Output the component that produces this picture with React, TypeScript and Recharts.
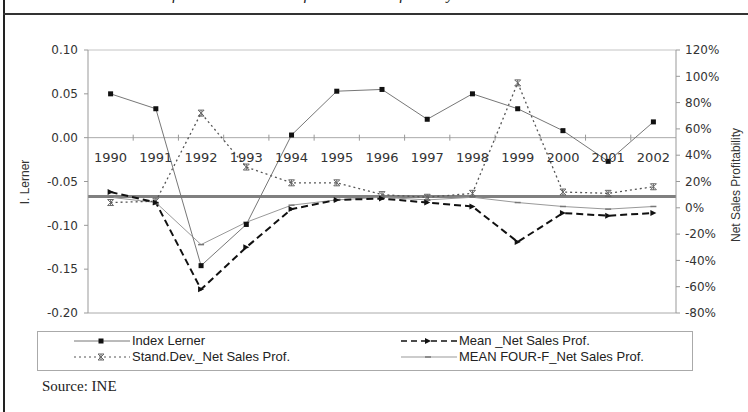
import React from 'react';
import { LineChart, Line, XAxis, YAxis, ReferenceLine } from 'recharts';

const years = ['1990', '1991', '1992', '1993', '1994', '1995', '1996', '1997', '1998', '1999', '2000', '2001', '2002'];
const indexLerner = [0.05, 0.033, -0.146, -0.099, 0.003, 0.053, 0.055, 0.021, 0.05, 0.033, 0.008, -0.027, 0.018];
const meanNetSales = [12, 4, -62, -30, -1, 6, 7, 4, 1, -26, -4, -6, -4];
const stdDevNetSales = [4, 5, 72, 31, 19, 19, 10, 8, 11, 95, 12, 11, 16];
const meanFourF = [8, 4, -28, -11, 2, 6, 8, 6, 8, 4, 1, -1, 1];
const lernerTicks = [-0.2, -0.15, -0.1, -0.05, 0, 0.05, 0.1];
const pctTicks = [-80, -60, -40, -20, 0, 20, 40, 60, 80, 100, 120];
const levelLine = 8.5;

const rows = years.map((year, i) => ({
  year,
  lerner: indexLerner[i],
  mean: meanNetSales[i],
  std: stdDevNetSales[i],
  fourF: meanFourF[i],
}));

const PLOT_TOP = 50;
const PLOT_H = 263;
const ZERO_Y = PLOT_TOP + PLOT_H / 3;
const HALF_BAND = 22.6;

const tickFont = { fontFamily: 'DejaVu Sans', fontSize: 12, fill: '#333' };

function YearTick(props: any) {
  const { x, payload, index } = props;
  return (
    <g>
      <text x={x} y={ZERO_Y + 21} textAnchor="middle" dominantBaseline="middle" fontFamily="DejaVu Sans" fontSize={13} fill="#333">
        {payload.value}
      </text>
      {index < years.length - 1 && (
        <line x1={x + HALF_BAND} x2={x + HALF_BAND} y1={ZERO_Y - 3} y2={ZERO_Y + 3} stroke="#999" />
      )}
    </g>
  );
}

const squareDot = (p: any) => (
  <rect key={p.index} x={p.cx - 2.5} y={p.cy - 2.5} width={5} height={5} fill="#111" />
);
const triDot = (p: any) => (
  <path key={p.index} d={`M${p.cx - 3},${p.cy - 3} L${p.cx + 3},${p.cy} L${p.cx - 3},${p.cy + 3} Z`} fill="#111" />
);
const starDot = (p: any) => (
  <path
    key={p.index}
    d={`M${p.cx - 3},${p.cy - 3} L${p.cx + 3},${p.cy + 3} M${p.cx + 3},${p.cy - 3} L${p.cx - 3},${p.cy + 3} M${p.cx},${p.cy - 3} L${p.cx},${p.cy + 3} M${p.cx - 3},${p.cy - 3} L${p.cx + 3},${p.cy - 3} M${p.cx - 3},${p.cy + 3} L${p.cx + 3},${p.cy + 3}`}
    stroke="#666"
    strokeWidth={1}
    fill="none"
  />
);
const dashDot = (p: any) => (
  <line key={p.index} x1={p.cx - 3} x2={p.cx + 3} y1={p.cy} y2={p.cy} stroke="#777" strokeWidth={1.5} />
);

function LegendSample({ kind }: { kind: string }) {
  const m = { cx: 27, cy: 6, index: 0 };
  return (
    <svg width={56} height={12} style={{ position: 'absolute', left: 0, top: 1 }}>
      {kind === 'lerner' && (<><line x1={0} x2={56} y1={6} y2={6} stroke="#777" />{squareDot(m)}</>)}
      {kind === 'mean' && (<><line x1={0} x2={56} y1={6} y2={6} stroke="#111" strokeWidth={1.5} strokeDasharray="6 4" />{triDot(m)}</>)}
      {kind === 'std' && (<><line x1={0} x2={56} y1={6} y2={6} stroke="#555" strokeDasharray="2 3" />{starDot(m)}</>)}
      {kind === 'fourF' && (<><line x1={0} x2={56} y1={6} y2={6} stroke="#999" />{dashDot(m)}</>)}
    </svg>
  );
}

function LegendItem({ kind, label, left, top }: { kind: string; label: string; left: number; top: number }) {
  return (
    <div style={{ position: 'absolute', left, top, height: 14, paddingLeft: 58, fontFamily: 'Liberation Sans', fontSize: 13, color: '#222', whiteSpace: 'nowrap', lineHeight: '14px' }}>
      <LegendSample kind={kind} />
      {label}
    </div>
  );
}

export default function App() {
  return (
    <div style={{ position: 'absolute', left: 0, top: 0, width: 748, height: 412, background: '#fff', overflow: 'hidden' }}>
      {/* caption line from the page above, only its lower edge shows in the scan */}
      <div style={{ position: 'absolute', left: 98, top: -15, fontFamily: 'Liberation Serif', fontStyle: 'italic', fontSize: 16, color: '#222', whiteSpace: 'nowrap' }}>
        Evolution of Index Lerner and of Net Sales Profitability
      </div>
      <div style={{ position: 'absolute', left: 3, top: 0, width: 2, height: 412, background: '#222' }} />
      <div style={{ position: 'absolute', left: 3, right: 0, top: 13, height: 2, background: '#333' }} />

      <LineChart width={748} height={412} data={rows} margin={{ top: PLOT_TOP, right: 12, bottom: 79, left: 28 }}>
        <XAxis
          dataKey="year"
          padding={{ left: HALF_BAND, right: HALF_BAND }}
          height={20}
          axisLine={{ stroke: '#aaa' }}
          tickLine={false}
          interval={0}
          tick={(p: any) => <YearTick {...p} />}
        />
        <YAxis
          yAxisId="left"
          domain={[-0.2, 0.1]}
          ticks={lernerTicks}
          tickFormatter={(v: number) => v.toFixed(2)}
          width={60}
          tickSize={4}
          tickMargin={6}
          axisLine={{ stroke: '#999' }}
          tickLine={{ stroke: '#999' }}
          tick={tickFont}
          allowDataOverflow
        />
        <YAxis
          yAxisId="right"
          orientation="right"
          domain={[-80, 120]}
          ticks={pctTicks}
          tickFormatter={(v: number) => `${v}%`}
          width={60}
          tickSize={4}
          tickMargin={5}
          axisLine={{ stroke: '#999' }}
          tickLine={{ stroke: '#999' }}
          tick={tickFont}
          allowDataOverflow
        />
        <ReferenceLine yAxisId="left" y={0.1} stroke="#c4c4c4" />
        <ReferenceLine yAxisId="left" y={0} stroke="#aaa" />
        <ReferenceLine yAxisId="right" y={levelLine} stroke="#808080" strokeWidth={3} />
        <Line yAxisId="right" dataKey="fourF" stroke="#999" strokeWidth={1} dot={dashDot} isAnimationActive={false} />
        <Line yAxisId="right" dataKey="std" stroke="#555" strokeWidth={1.3} strokeDasharray="2 3" dot={starDot} isAnimationActive={false} />
        <Line yAxisId="right" dataKey="mean" stroke="#111" strokeWidth={2} strokeDasharray="7 4" dot={triDot} isAnimationActive={false} />
        <Line yAxisId="left" dataKey="lerner" stroke="#777" strokeWidth={1} dot={squareDot} isAnimationActive={false} />
      </LineChart>

      <div style={{ position: 'absolute', left: 25, top: 182, transform: 'translate(-50%, -50%) rotate(-90deg)', fontFamily: 'Liberation Sans', fontSize: 12, color: '#333', whiteSpace: 'nowrap' }}>
        I. Lerner
      </div>
      <div style={{ position: 'absolute', left: 736, top: 185, transform: 'translate(-50%, -50%) rotate(-90deg)', fontFamily: 'Liberation Sans', fontSize: 12, color: '#333', whiteSpace: 'nowrap' }}>
        Net Sales Profitability
      </div>

      <div style={{ position: 'absolute', left: 37, top: 331, width: 656, height: 40, border: '1px solid #aaa', boxSizing: 'border-box' }} />
      <LegendItem kind="lerner" label="Index Lerner" left={74} top={334} />
      <LegendItem kind="mean" label="Mean _Net Sales Prof." left={401} top={334} />
      <LegendItem kind="std" label="Stand.Dev._Net Sales Prof." left={74} top={350} />
      <LegendItem kind="fourF" label="MEAN FOUR-F_Net Sales Prof." left={401} top={350} />

      <div style={{ position: 'absolute', left: 42, top: 378, fontFamily: 'Liberation Serif', fontSize: 15, color: '#222' }}>
        Source: INE
      </div>
    </div>
  );
}
